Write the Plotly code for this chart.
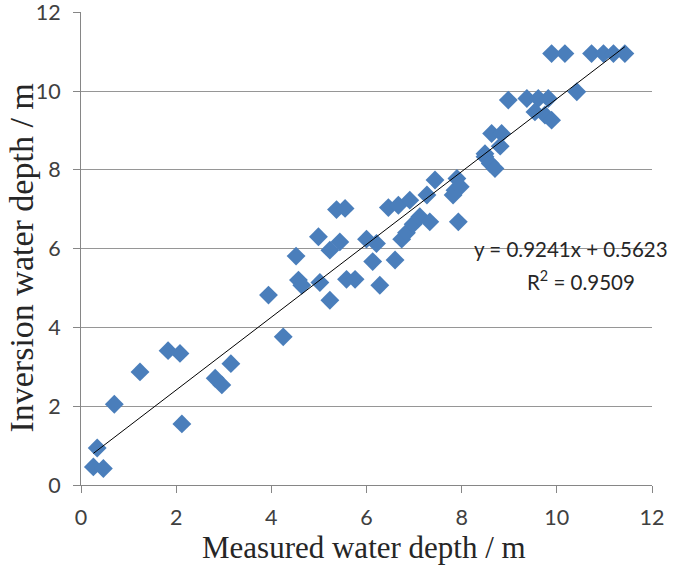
import plotly.graph_objects as go
import numpy as np

measured = [0.26, 0.47, 0.34, 0.70, 1.24, 1.83, 2.08, 2.12, 2.82, 2.96, 3.15, 3.94, 4.25,
            4.52, 4.57, 4.64, 4.99, 5.02, 5.23, 5.23, 5.37, 5.55, 5.44, 5.58, 5.76, 6.00,
            6.21, 6.13, 6.28, 6.46, 6.60, 6.67, 6.74, 6.84, 6.91, 6.98, 7.12, 7.33, 7.27,
            7.44, 7.86, 7.82, 7.90, 7.97, 7.93, 8.49, 8.49, 8.60, 8.70, 8.63, 8.84, 8.81,
            8.98, 9.37, 9.61, 9.82, 9.54, 9.75, 9.89, 10.42, 9.89, 10.17, 10.73, 10.98,
            11.19, 11.43]
inversion = [0.46, 0.42, 0.94, 2.05, 2.87, 3.41, 3.34, 1.55, 2.71, 2.54, 3.08, 4.82, 3.76,
             5.81, 5.20, 5.07, 6.30, 5.14, 4.69, 5.96, 6.99, 7.02, 6.17, 5.22, 5.22, 6.24,
             6.13, 5.67, 5.07, 7.04, 5.71, 7.10, 6.24, 6.40, 7.23, 6.62, 6.81, 6.68, 7.36,
             7.74, 7.48, 7.36, 7.78, 7.57, 6.68, 8.41, 8.33, 8.16, 8.03, 8.92, 8.92, 8.60,
             9.77, 9.81, 9.81, 9.81, 9.47, 9.39, 9.26, 9.98, 10.95, 10.95, 10.95, 10.95,
             10.95, 10.95]

slope = 0.9241
intercept = 0.5623
r2 = 0.9509

tick_vals = [0, 2, 4, 6, 8, 10, 12]
x_title = "Measured water depth / m"
y_title = "Inversion water depth / m"

x_line = np.array([min(measured), max(measured)])
y_line = slope * x_line + intercept

TICK_FONT = dict(family="Lato, Open Sans, sans-serif", size=21.5, color="#404040")
LABEL_FONT = dict(family="Lato, Open Sans, sans-serif", size=20.5, color="#262626")
SERIF = "Liberation Serif, Times New Roman, serif"

fig = go.Figure()
fig.add_trace(go.Scatter(
    x=measured, y=inversion, mode="markers",
    marker=dict(symbol="diamond", size=14.5, color="#4A7EBB", line=dict(width=0)),
    showlegend=False, cliponaxis=False))
fig.add_trace(go.Scatter(
    x=x_line, y=y_line, mode="lines",
    line=dict(color="#000000", width=1), showlegend=False))

fig.add_annotation(x=10.3, y=6.0, xref="x", yref="y",
                   text=f"y = {slope}x + {intercept}", showarrow=False,
                   xanchor="center", yanchor="middle", font=LABEL_FONT)
fig.add_annotation(x=10.5, y=5.2, xref="x", yref="y",
                   text=f"R<sup>2</sup> = {r2}", showarrow=False,
                   xanchor="center", yanchor="middle", font=LABEL_FONT)

# axis titles
fig.add_annotation(x=0.496, y=-0.133, xref="paper", yref="paper", text=x_title,
                   showarrow=False, xanchor="center", yanchor="middle",
                   font=dict(family=SERIF, size=31, color="#262626"))
fig.add_annotation(x=-0.104, y=0.48, xref="paper", yref="paper", text=y_title,
                   showarrow=False, xanchor="center", yanchor="middle", textangle=-90,
                   borderpad=0,
                   font=dict(family=SERIF, size=34, color="#262626"))

fig.update_layout(
    width=685, height=567,
    margin=dict(l=81, r=33, t=12, b=82, autoexpand=False),
    paper_bgcolor="white", plot_bgcolor="white",
    xaxis=dict(range=[0, 12], tickvals=tick_vals, showgrid=False, zeroline=False,
               showline=True, linecolor="#868686", linewidth=1, automargin=False,
               ticks="outside", ticklen=7, tickcolor="#868686",
               ticklabeloverflow="allow", ticklabelstandoff=6,
               tickfont=TICK_FONT),
    yaxis=dict(range=[0, 12.005], tickvals=tick_vals, showgrid=True, gridcolor="#969696", gridwidth=1,
               zeroline=False, showline=True, linecolor="#868686", linewidth=1, automargin=False,
               ticks="outside", ticklen=7, tickcolor="#868686",
               ticklabeloverflow="allow", ticklabelstandoff=8,
               tickfont=TICK_FONT),
)

# remove the browser's default 8px body margin so the figure fills the window
fig.write_html("out.html", config={"displayModeBar": False},
               post_script="document.body.style.margin='0';")
